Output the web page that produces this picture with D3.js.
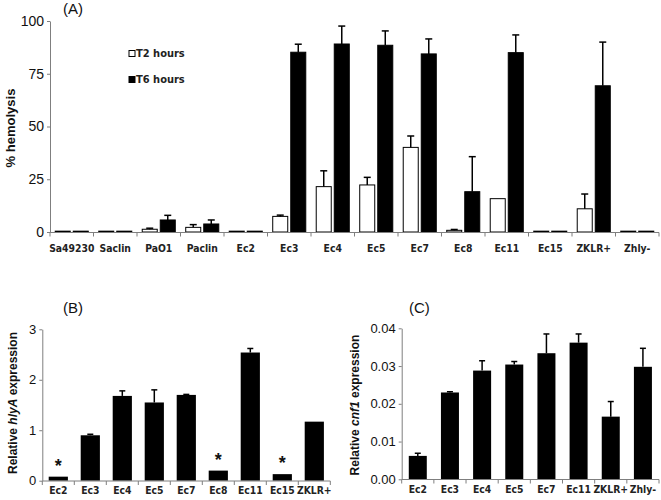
<!DOCTYPE html>
<html><head><meta charset="utf-8">
<script src="https://cdn.jsdelivr.net/npm/d3@7"></script>
<style>body{margin:0;background:#fff}svg{display:block}</style>
</head><body>
<svg id="c" width="661" height="500"></svg>
<script>
// ---------- DATA ----------
const catsA = ["Sa49230","Saclin","PaO1","Paclin","Ec2","Ec3","Ec4","Ec5","Ec7","Ec8","Ec11","Ec15","ZKLR+","Zhly-"];
const t2Vals = [0.4,0.4,1.3,2.2,0.4,7.4,21.5,22.3,40.1,0.8,15.8,0.4,11.0,0.4];
const t2Err  = [0,0,0.5,1.3,0,0.6,7.5,3.6,5.4,0.4,0,0,7.0,0];
const t6Vals = [0.4,0.4,5.7,3.8,0.4,85.2,89.1,88.5,84.4,19.1,85.0,0.4,69.3,0.4];
const t6Err  = [0,0,2.2,1.9,0,3.8,8.5,6.8,7.1,16.6,8.4,0,20.7,0];
const seriesA = ["T2 hours","T6 hours"];
const ticksA = [0,25,50,75,100];

const catsB = ["Ec2","Ec3","Ec4","Ec5","Ec7","Ec8","Ec11","Ec15","ZKLR+"];
const hlyVals = [0.08,0.90,1.68,1.55,1.70,0.20,2.54,0.13,1.17];
const hlyErr  = [0,0.02,0.10,0.25,0.01,0,0.08,0,0];
const hlyStar = [true,false,false,false,false,true,false,true,false];
const ticksB = [0,1,2,3];

const catsC = ["Ec2","Ec3","Ec4","Ec5","Ec7","Ec11","ZKLR+","Zhly-"];
const cnfVals = [0.0062,0.0230,0.0288,0.0304,0.0334,0.0362,0.0166,0.0298];
const cnfErr  = [0.0007,0.0002,0.0026,0.0008,0.0051,0.0023,0.0040,0.0049];
const ticksC = [0,0.01,0.02,0.03,0.04];

// ---------- DRAW ----------
const svg = d3.select("#c");
const AX = "#7f7f7f";
const numFont = "Liberation Sans, Arial, sans-serif";
const catFont = "DejaVu Sans Condensed, DejaVu Sans, sans-serif";

function catAxis(g, xb, y0, cats, labelY, fs){
  const r = xb.range(), step = xb.step();
  g.append("line").attr("x1",r[0]).attr("x2",r[1]).attr("y1",y0).attr("y2",y0)
    .attr("stroke",AX).attr("stroke-width",1);
  d3.range(cats.length+1).forEach(i=>{
    const x = r[0] + i*step;
    g.append("line").attr("x1",x).attr("x2",x).attr("y1",y0).attr("y2",y0+4)
      .attr("stroke",AX).attr("stroke-width",1);
  });
  g.selectAll("text.cl").data(cats).join("text").attr("class","cl")
    .attr("x",d=>xb(d)+xb.bandwidth()/2).attr("y",labelY)
    .attr("text-anchor","middle").attr("dominant-baseline","central")
    .attr("font-family",catFont).attr("font-weight","bold").attr("font-size",fs)
    .attr("fill","#222").text(d=>d);
}
function valAxis(g, ys, x0, ticks, fmt, fs){
  const ax = d3.axisLeft(ys).tickValues(ticks).tickFormat(fmt).tickSize(3).tickSizeOuter(0).tickPadding(3);
  const a = g.append("g").attr("transform",`translate(${x0},0)`).call(ax);
  a.select(".domain").attr("stroke",AX);
  a.selectAll(".tick line").attr("stroke",AX);
  a.selectAll(".tick text").attr("font-family",numFont).attr("font-size",fs).attr("fill","#111");
}
function errBars(g, xc, ys, vals, errs, capW){
  vals.forEach((v,i)=>{
    if(!errs[i]) return;
    const x = xc(i), yt = ys(v+errs[i]);
    g.append("line").attr("x1",x).attr("x2",x).attr("y1",ys(v)).attr("y2",yt).attr("stroke","#000").attr("stroke-width",1.5);
    g.append("line").attr("x1",x-capW/2).attr("x2",x+capW/2).attr("y1",yt).attr("y2",yt).attr("stroke","#000").attr("stroke-width",1.5);
  });
}

// ----- Panel A -----
const gA = svg.append("g");
const xA = d3.scaleBand().domain(catsA).range([50,659]).padding(0);
const xsA = d3.scaleBand().domain(seriesA).range([0,xA.bandwidth()]).paddingInner(0.167).paddingOuter(0.29);
const yA = d3.scaleLinear().domain([0,100]).range([232,21]);
valAxis(gA, yA, 50, ticksA, d3.format("d"), 14);
[[t2Vals,t2Err,"#fff"],[t6Vals,t6Err,"#000"]].forEach(([vals,errs,fill],si)=>{
  const s = seriesA[si];
  gA.selectAll(null).data(vals).join("rect")
    .attr("x",(d,i)=>xA(catsA[i])+xsA(s)).attr("width",xsA.bandwidth())
    .attr("y",d=>yA(d)).attr("height",d=>yA(0)-yA(d))
    .attr("fill",fill).attr("stroke","#000").attr("stroke-width",1);
  errBars(gA, i=>xA(catsA[i])+xsA(s)+xsA.bandwidth()/2, yA, vals, errs, 7);
});
catAxis(gA, xA, 232.5, catsA, 248, 10.3);
gA.append("text").attr("transform","translate(10,128) rotate(-90)").attr("text-anchor","middle")
  .attr("dominant-baseline","central").attr("font-family",numFont).attr("font-weight","bold")
  .attr("font-size",13).attr("fill","#111").text("% hemolysis");
gA.append("text").attr("x",63).attr("y",14).attr("font-family",numFont).attr("font-size",15).attr("fill","#111").text("(A)");
// legend
seriesA.forEach((s,i)=>{
  const ly = 53.5 + i*26;
  gA.append("rect").attr("x",129).attr("y",ly-3).attr("width",6).attr("height",6)
    .attr("fill", i===0?"#fff":"#000").attr("stroke","#000").attr("stroke-width",1);
  gA.append("text").attr("x",136).attr("y",ly).attr("dominant-baseline","central")
    .attr("font-family",catFont).attr("font-weight","bold").attr("font-size",11).attr("fill","#222").text(s);
});

// ----- Panel B -----
const gB = svg.append("g");
const xB = d3.scaleBand().domain(catsB).range([42.3,330.3]).paddingInner(0.4).paddingOuter(0.2);
const yB = d3.scaleLinear().domain([0,3]).range([480.7,329.3]);
valAxis(gB, yB, 42.3, ticksB, d3.format("d"), 13);
gB.selectAll(null).data(hlyVals).join("rect")
  .attr("x",(d,i)=>xB(catsB[i])).attr("width",xB.bandwidth())
  .attr("y",d=>yB(d)).attr("height",d=>yB(0)-yB(d)).attr("fill","#000");
errBars(gB, i=>xB(catsB[i])+xB.bandwidth()/2, yB, hlyVals, hlyErr, 6);
gB.selectAll(null).data(hlyVals.map((v,i)=>({v,i})).filter(d=>hlyStar[d.i])).join("text")
  .attr("x",d=>xB(catsB[d.i])+xB.bandwidth()/2)
  .attr("y",d=>yB(d.v)-11).attr("text-anchor","middle").attr("dominant-baseline","central")
  .attr("font-family",numFont).attr("font-weight","bold").attr("font-size",18).attr("fill","#111").text("*");
catAxis(gB, xB, 481, catsB, 490, 10.3);
const lb = gB.append("text").attr("transform","translate(13,403) rotate(-90)").attr("text-anchor","middle")
  .attr("dominant-baseline","central").attr("font-family",numFont).attr("font-weight","bold")
  .attr("font-size",12).attr("fill","#111");
lb.append("tspan").text("Relative ");
lb.append("tspan").attr("font-style","italic").text("hlyA");
lb.append("tspan").text(" expression");
gB.append("text").attr("x",63).attr("y",313).attr("font-family",numFont).attr("font-size",15).attr("fill","#111").text("(B)");

// ----- Panel C -----
const gC = svg.append("g");
const xC = d3.scaleBand().domain(catsC).range([401.7,659]).paddingInner(0.44).paddingOuter(0.22);
const yC = d3.scaleLinear().domain([0,0.04]).range([479.3,328.3]);
valAxis(gC, yC, 401.7, ticksC, d3.format(".2f"), 13);
gC.selectAll(null).data(cnfVals).join("rect")
  .attr("x",(d,i)=>xC(catsC[i])).attr("width",xC.bandwidth())
  .attr("y",d=>yC(d)).attr("height",d=>yC(0)-yC(d)).attr("fill","#000");
errBars(gC, i=>xC(catsC[i])+xC.bandwidth()/2, yC, cnfVals, cnfErr, 6);
catAxis(gC, xC, 479.5, catsC, 489, 10.3);
const lc = gC.append("text").attr("transform","translate(355,405) rotate(-90)").attr("text-anchor","middle")
  .attr("dominant-baseline","central").attr("font-family",numFont).attr("font-weight","bold")
  .attr("font-size",12).attr("fill","#111");
lc.append("tspan").text("Relative ");
lc.append("tspan").attr("font-style","italic").text("cnf1");
lc.append("tspan").text(" expression");
gC.append("text").attr("x",409).attr("y",313).attr("font-family",numFont).attr("font-size",15).attr("fill","#111").text("(C)");
</script>
</body></html>
